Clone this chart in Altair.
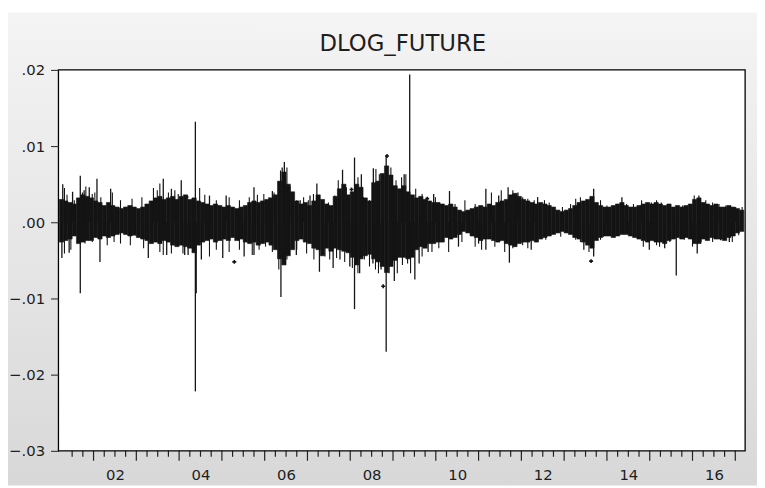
import altair as alt
import pandas as pd

# ---- data (values in units of 0.001) ----
bin_start = [round(2001.2 + 0.1 * i, 2) for i in range(160)]
band_hi = [
    3.0, 2.8, 2.6, 2.4, 3.2, 3.6, 3.4, 3.2, 2.8, 2.6,
    2.2, 2.6, 2.2, 2.0, 1.8, 2.0, 2.2, 2.0, 1.8, 2.0,
    2.4, 2.8, 3.2, 3.4, 3.0, 3.2, 3.4, 3.0, 3.4, 3.6,
    3.0, 3.2, 2.8, 2.6, 2.4, 2.2, 2.4, 2.2, 2.0, 2.2,
    2.0, 1.8, 2.0, 2.2, 2.6, 2.8, 2.6, 2.8, 3.0, 3.2,
    3.6, 5.4, 6.6, 5.0, 4.0, 2.8, 2.4, 2.6, 2.2, 2.8,
    3.6, 3.0, 2.4, 2.2, 3.4, 4.4, 5.0, 3.6, 4.0, 5.0,
    4.6, 3.2, 2.8, 5.2, 5.4, 6.4, 7.4, 6.2, 4.8, 4.4,
    4.8, 4.0, 3.6, 3.2, 3.4, 3.0, 2.8, 2.6, 2.6, 2.4,
    2.2, 2.4, 2.0, 1.6, 1.4, 1.6, 1.8, 2.0, 2.2, 2.0,
    2.4, 2.2, 2.6, 2.8, 3.0, 3.6, 3.8, 3.4, 3.0, 2.8,
    2.6, 2.4, 2.6, 2.4, 2.2, 2.0, 1.6, 1.4, 1.6, 1.8,
    2.2, 2.6, 2.8, 3.0, 3.4, 2.6, 2.2, 2.0, 2.0, 2.2,
    2.4, 2.6, 2.2, 2.0, 2.0, 2.2, 2.4, 2.6, 2.4, 2.6,
    2.4, 2.2, 2.4, 2.0, 2.2, 2.0, 2.2, 2.4, 3.0, 3.2,
    2.6, 2.4, 2.2, 2.4, 2.0, 2.0, 2.2, 2.0, 1.8, 1.6,
]
band_lo = [
    -2.6, -2.4, -2.2, -1.8, -2.8, -2.6, -2.4, -2.4, -2.0, -2.2,
    -1.8, -2.0, -1.8, -1.6, -1.4, -1.6, -1.8, -1.7, -2.0, -2.2,
    -2.4, -2.8, -2.6, -2.8, -2.4, -2.6, -3.0, -3.2, -3.0, -3.2,
    -3.4, -4.0, -3.0, -2.6, -2.4, -2.2, -2.6, -2.4, -2.2, -2.4,
    -2.0, -2.4, -2.2, -2.6, -2.8, -2.6, -3.0, -2.8, -2.6, -3.0,
    -3.6, -4.8, -5.6, -4.4, -3.6, -2.4, -2.2, -2.6, -2.8, -3.4,
    -3.6, -4.4, -3.4, -3.8, -3.4, -3.6, -3.8, -4.0, -4.6, -5.6,
    -4.8, -4.4, -4.2, -4.8, -5.2, -5.8, -6.6, -5.8, -5.0, -4.6,
    -4.6, -4.8, -4.6, -3.6, -3.2, -3.4, -2.8, -2.8, -2.6, -2.6,
    -2.0, -2.2, -2.0, -1.6, -1.2, -1.4, -1.8, -2.0, -2.4, -2.2,
    -2.2, -2.4, -2.6, -2.4, -2.8, -3.0, -3.2, -2.8, -2.6, -2.6,
    -2.4, -2.6, -2.2, -2.0, -1.8, -1.6, -1.4, -1.2, -1.4, -1.6,
    -2.0, -2.2, -2.6, -3.0, -3.4, -2.4, -2.0, -1.8, -1.8, -2.0,
    -1.8, -1.6, -1.6, -1.8, -2.0, -2.2, -2.4, -2.6, -2.4, -2.6,
    -2.6, -2.8, -2.4, -2.2, -2.0, -2.2, -2.0, -2.2, -2.8, -2.8,
    -2.2, -2.4, -2.0, -2.2, -2.2, -2.4, -2.0, -1.8, -1.4, -1.2,
]

# large spikes
spike_year = [
    2001.28, 2001.26, 2001.43, 2001.51, 2001.69, 2001.69, 2001.78, 2001.90, 2002.08, 2002.15,
    2002.40, 2003.28, 2003.63, 2003.71, 2003.82, 2004.05, 2004.13, 2004.21, 2004.38, 2004.38,
    2004.40, 2004.52, 2004.71, 2005.02, 2005.10, 2005.52, 2005.75, 2005.75, 2006.18, 2006.38,
    2006.46, 2006.41, 2006.59, 2006.74, 2006.83, 2007.06, 2007.22, 2007.28, 2007.60, 2007.82,
    2007.76, 2007.99, 2008.10, 2008.10, 2008.26, 2008.22, 2008.53, 2008.54, 2008.72, 2008.84,
    2008.84, 2009.03, 2009.26, 2009.39, 2009.51, 2009.61, 2009.82, 2009.95, 2010.32, 2010.53,
    2011.00, 2011.17, 2011.17, 2011.47, 2011.69, 2011.72, 2011.92, 2012.23, 2012.38, 2013.46,
    2013.69, 2013.69, 2014.35, 2014.99, 2015.35, 2015.62, 2016.11, 2016.15, 2016.86,
]
spike_val = [
    5.0, -4.7, -4.0, 4.0, 6.1, -9.3, 4.2, 4.6, 5.7, -5.2,
    4.4, -4.7, 5.7, -4.3, 4.4, 5.5, -4.3, -4.3, 13.2, -22.2,
    -9.3, -4.9, 3.5, -4.7, 3.5, -4.5, 4.6, -4.3, 4.1, -9.8,
    7.9, 7.2, 4.7, -4.3, 2.9, 3.5, 5.1, -6.5, -6.0, 6.9,
    -4.9, -5.8, 8.5, -11.4, 6.3, -6.7, -5.4, 7.1, -6.2, 8.8,
    -17.0, -7.7, 6.3, 19.4, -7.5, -5.4, -3.9, 3.7, 4.1, -3.2,
    -2.8, 4.4, -3.6, 3.5, 4.6, -5.3, 3.9, -3.6, 3.3, -3.6,
    4.4, -4.5, 3.3, -3.6, -3.4, -7.0, -4.1, 3.5, -2.6,
]

# smaller spikes along the edges of the band
small_year = [
    2001.32, 2001.38, 2001.55, 2001.74, 2001.82, 2001.97, 2002.03, 2002.17, 2002.44, 2002.63,
    2002.90, 2003.13, 2003.40, 2003.49, 2003.55, 2003.75, 2003.90, 2003.98, 2004.48, 2004.60,
    2004.87, 2005.17, 2005.41, 2005.64, 2005.83, 2005.98, 2006.10, 2006.22,
    2001.32, 2001.47, 2001.80, 2001.97, 2002.32, 2002.48, 2002.63, 2002.86, 2003.17, 2003.55,
    2003.63, 2003.82, 2004.09, 2004.71, 2004.87, 2005.17, 2005.41, 2005.71, 2005.87, 2006.02,
    2006.18,
    2006.37, 2006.52, 2006.75, 2006.91, 2007.02, 2007.14, 2007.37, 2007.49, 2007.64, 2007.72,
    2007.91, 2008.18, 2008.31, 2008.45, 2008.60, 2008.68, 2008.95, 2009.07, 2009.20, 2009.30,
    2009.53, 2009.68, 2009.99, 2010.15, 2010.45, 2010.68, 2010.92, 2011.30, 2011.53,
    2006.33, 2006.52, 2006.75, 2006.98, 2007.15, 2007.41, 2007.52, 2007.68, 2007.87, 2008.05,
    2008.18, 2008.33, 2008.45, 2008.59, 2008.66, 2008.91, 2009.10, 2009.22, 2009.34, 2009.41,
    2009.68, 2009.91, 2010.07, 2010.30, 2010.61, 2010.92, 2011.07, 2011.38, 2011.61, 2011.80,
    2011.80, 2012.03, 2012.15, 2012.30, 2012.54, 2012.65, 2012.96, 2013.15, 2013.27, 2013.38,
    2013.54, 2013.85, 2014.00, 2014.15, 2014.46, 2014.62, 2014.81, 2015.04, 2015.16, 2015.27,
    2015.47, 2015.77, 2015.93, 2016.04, 2016.31, 2016.47, 2016.62, 2016.78, 2017.01, 2017.16,
    2011.84, 2012.03, 2012.15, 2012.38, 2012.57, 2012.92, 2013.27, 2013.38, 2013.58, 2013.85,
    2013.92, 2014.15, 2014.50, 2014.73, 2014.85, 2015.16, 2015.23, 2015.47, 2015.81, 2016.00,
    2016.20, 2016.31, 2016.47, 2016.58, 2016.78, 2016.93, 2017.08,
]
small_val = [
    4.5, 3.6, 2.9, 3.9, 4.7, 3.7, 3.9, 3.3, 3.9, 2.9,
    3.1, 3.3, 4.5, 4.2, 5.1, 3.9, 4.2, 3.7, 4.5, 3.6,
    2.9, 3.3, 2.9, 3.3, 3.6, 3.7, 3.3, 3.9,
    -4.1, -3.6, -2.8, -2.6, -3.0, -2.6, -2.8, -3.0, -3.4, -3.9,
    -4.3, -4.1, -4.1, -4.5, -3.6, -3.9, -3.6, -4.3, -3.6, -3.2,
    -3.9,
    6.8, 7.2, 2.9, 3.3, 2.9, 3.7, 2.4, 2.6, 3.5, 5.5,
    4.6, 5.9, 3.3, 2.9, 7.0, 6.3, 7.2, 5.5, 5.9, 6.3,
    4.4, 3.7, 3.3, 2.4, 2.4, 2.9, 2.4, 3.9, 4.2,
    -6.2, -4.9, -3.6, -4.1, -4.9, -4.5, -4.9, -4.7, -5.2, -6.0,
    -6.7, -4.9, -5.8, -6.2, -6.7, -6.7, -6.7, -5.6, -5.4, -6.7,
    -4.5, -3.9, -3.4, -3.9, -2.6, -3.2, -3.6, -3.2, -3.9, -3.4,
    4.2, 3.3, 3.1, 2.9, 2.9, 2.6, 2.0, 2.4, 3.1, 3.3,
    2.9, 2.9, 2.2, 2.0, 2.4, 2.4, 2.9, 2.6, 2.9, 2.6,
    2.4, 2.2, 2.4, 3.5, 2.9, 2.6, 2.4, 2.2, 2.0, 2.0,
    -3.2, -3.0, -3.4, -2.6, -2.3, -1.9, -2.3, -2.6, -3.9, -2.3,
    -1.9, -1.7, -1.5, -1.9, -3.2, -3.0, -3.2, -2.6, -2.3, -3.2,
    -2.6, -2.3, -2.6, -2.1, -2.3, -2.6, -1.7,
]

pt_year = [2004.17, 2005.29, 2008.03, 2008.77, 2008.86, 2009.80, 2011.77, 2013.63, 2016.66]
pt_val = [3.3, -5.2, 4.3, -8.4, 8.7, 3.1, 3.3, -5.1, -2.1]

major_years = list(range(2002, 2018))
minor_years = [y + q for y in range(2001, 2017) for q in (0.25, 0.5, 0.75) if 2001.3 < y + q < 2017.2]
label_pos = [y + 0.5 for y in range(2002, 2017, 2)]
y_ticks = [-0.03, -0.02, -0.01, 0.0, 0.01, 0.02]

# ---- tables ----
band = pd.DataFrame({
    "x": bin_start,
    "x1": [b + 0.1 for b in bin_start],
    "v": [v * 0.001 for v in band_lo],
    "hi": [v * 0.001 for v in band_hi],
})
spikes = pd.DataFrame({"x": spike_year, "v": [v * 0.001 for v in spike_val], "z": 0.0})
small = pd.DataFrame({"x": small_year, "v": [v * 0.001 for v in small_val], "z": 0.0})
pts = pd.DataFrame({"x": pt_year, "v": [v * 0.001 for v in pt_val]})
majors = pd.DataFrame({"x": major_years})
minors = pd.DataFrame({"x": minor_years})
one = pd.DataFrame({"a": [0]})

W, H = 694, 385
PL, PT, PR, PB = 51, 60, 12, 35
FONT = "DejaVu Sans"
INK = "#141414"
TXT = "#1e1e1e"

xs = alt.Scale(domain=[2001.18, 2017.23], nice=False, zero=False)
ys = alt.Scale(domain=[-0.03, 0.02], nice=False, zero=False)

X_AX = alt.Axis(
    values=label_pos,
    labelExpr="slice(toString(floor(datum.value)), 2)",
    ticks=False, tickSize=0, domain=False, grid=False,
    labelPadding=17, labelFont=FONT, labelFontSize=15, labelColor=TXT,
    labelFlush=False, labelOverlap=False, title=None, zindex=2,
)
Y_AX = alt.Axis(
    values=y_ticks,
    labelExpr="replace(format(datum.value, '.2f'), '0.', '.')",
    tickSize=8, tickColor="#222", tickWidth=1, domain=False, grid=False,
    labelPadding=6, labelFont=FONT, labelFontSize=15, labelColor=TXT,
    labelFlush=False, labelOverlap=False, title=None, zindex=2,
)
XE = alt.X("x:Q", scale=xs, axis=X_AX)
YE = alt.Y("v:Q", scale=ys, axis=Y_AX)

bg = alt.Chart(one).mark_rect(
    color=alt.Gradient(
        gradient="linear",
        stops=[alt.GradientStop(color="#f4f4f4", offset=0), alt.GradientStop(color="#d8d8d8", offset=1)],
        x1=0, x2=0, y1=0, y2=1,
    )
).encode(x=alt.value(-PL), x2=alt.value(W + PR), y=alt.value(-PT + 2), y2=alt.value(H + PB))

plotbg = alt.Chart(one).mark_rect(color="white").encode(
    x=alt.value(0), x2=alt.value(W), y=alt.value(0), y2=alt.value(H)
)

band_layer = alt.Chart(band).mark_rect(color=INK, stroke=INK, strokeWidth=0.6).encode(
    x=XE, x2="x1:Q", y=YE, y2="hi:Q",
)

spike_layer = alt.Chart(spikes).mark_rule(color=INK, strokeWidth=1.3).encode(
    x=XE, y=YE, y2="z:Q",
)

small_layer = alt.Chart(small).mark_rule(color=INK, strokeWidth=1.1).encode(
    x=XE, y=YE, y2="z:Q",
)

pt_layer = alt.Chart(pts).mark_point(shape="cross", filled=True, color=INK, size=16, opacity=1).encode(
    x=XE, y=YE,
)

major_layer = alt.Chart(majors).mark_rule(color="#222", strokeWidth=1.2).encode(
    x=XE, y=alt.value(H), y2=alt.value(H + 10)
)
minor_layer = alt.Chart(minors).mark_rule(color="#222", strokeWidth=1.2).encode(
    x=XE, y=alt.value(H), y2=alt.value(H + 6)
)

border = alt.Chart(one).mark_rect(fillOpacity=0, stroke="black", strokeWidth=1.3).encode(
    x=alt.value(0), x2=alt.value(W), y=alt.value(0), y2=alt.value(H)
)

title_layer = alt.Chart(one).mark_text(
    text="DLOG_FUTURE", font=FONT, fontSize=23, color=TXT, align="center", baseline="alphabetic"
).encode(x=alt.value(W / 2 + 1), y=alt.value(-19))

chart = alt.layer(
    bg, plotbg, band_layer, small_layer, spike_layer, pt_layer,
    major_layer, minor_layer, border, title_layer
).properties(
    width=W, height=H,
    autosize=alt.AutoSizeParams(type="none"),
    padding={"left": PL, "top": PT, "right": PR, "bottom": PB},
    background="white",
).configure_view(stroke=None)

chart.save("out.html", embed_options={"renderer": "svg", "actions": False})
